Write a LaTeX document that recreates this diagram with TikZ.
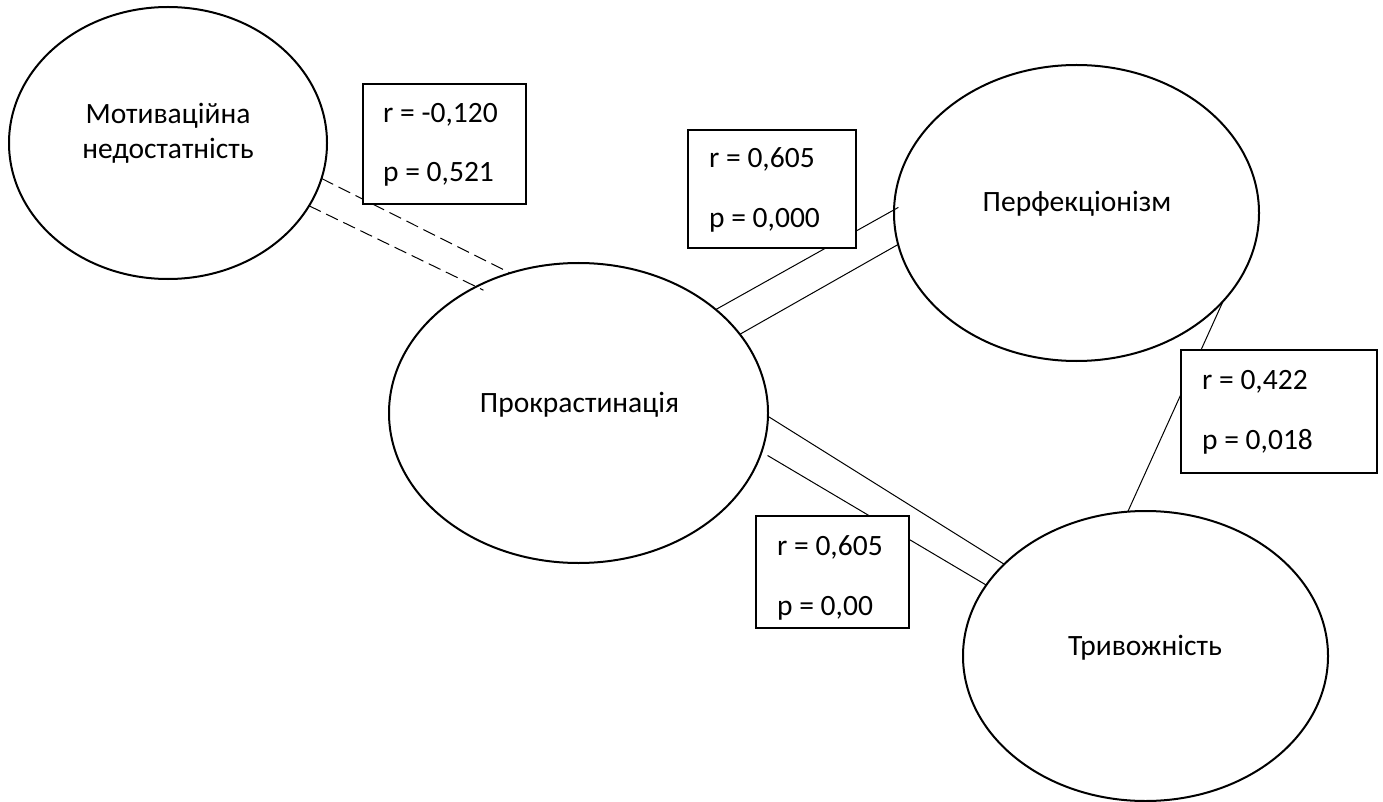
\documentclass[tikz,border=0pt]{standalone}
\usepackage{fontspec}
\setmainfont{Carlito}
\usetikzlibrary{shapes.geometric}
\begin{document}
\begin{tikzpicture}[x=1pt,y=-1pt,
  oval/.style={draw,ellipse,line width=2pt,inner sep=0pt,outer sep=0pt},
  lbl/.style={font=\fontsize{29.5}{35}\selectfont,inner sep=0pt,anchor=base},
  statbox/.style={draw,fill=white,line width=1.2pt,inner sep=0pt,outer sep=0pt},
  stat/.style={font=\fontsize{29.5}{35}\selectfont,inner sep=0pt,anchor=base west},
  link/.style={line width=1pt},
  dlink/.style={line width=1pt,dash pattern=on 13pt off 6pt}]
\useasboundingbox (0,0) rectangle (1383,802);
% ellipses
\node[oval,minimum width=318pt,minimum height=272pt] (mot) at (168,143) {};
\node[oval,minimum width=379pt,minimum height=300pt] (pro) at (578.5,413) {};
\node[oval,minimum width=365pt,minimum height=296pt] (per) at (1076.5,213) {};
\node[oval,minimum width=365pt,minimum height=290pt] (tri) at (1145.5,656) {};
% ellipse texts
\node[lbl] (tmot1) at (168,124) {Мотиваційна};
\node[lbl] (tmot2) at (168,159) {недостатність};
\node[lbl] (tpro) at (579.5,412) {Прокрастинація};
\node[lbl] (tper) at (1077,212) {Перфекціонізм};
\node[lbl] (ttri) at (1145,655) {Тривожність};
% connectors
\draw[dlink] (mot.-13.2) -- (pro.116.6);
\draw[dlink,shorten >=-8pt] (mot.-24.6) -- (pro.129.4);
\draw[link,shorten >=-5pt] (pro.37) -- (per.179.7);
\draw[link] (pro.26.4) -- (per.190.7);
\draw[link] (pro.-1.2) -- (tri.147.1);
\draw[link,shorten <=7pt] (pro.-12.5) -- (tri.156.3);
\draw[link] (per.-31.5) -- (tri.97.7);
% statistic boxes
\node[statbox,minimum width=163pt,minimum height=120pt] (b1) at (444.5,144) {};
\node[statbox,minimum width=168pt,minimum height=118pt] (b2) at (772,189) {};
\node[statbox,minimum width=196pt,minimum height=123pt] (b3) at (1279,411.5) {};
\node[statbox,minimum width=153pt,minimum height=112pt] (b4) at (832.5,572) {};
\node[stat] (b1r) at ([shift={(20,39)}]b1.north west) {r = -0,120};
\node[stat] (b1p) at ([shift={(20,98)}]b1.north west) {p = 0,521};
\node[stat] (b2r) at ([shift={(21,38)}]b2.north west) {r = 0,605};
\node[stat] (b2p) at ([shift={(21,98)}]b2.north west) {p = 0,000};
\node[stat] (b3r) at ([shift={(21,39)}]b3.north west) {r = 0,422};
\node[stat] (b3p) at ([shift={(21,99)}]b3.north west) {p = 0,018};
\node[stat] (b4r) at ([shift={(21,39)}]b4.north west) {r = 0,605};
\node[stat] (b4p) at ([shift={(21,99)}]b4.north west) {p = 0,00};
\end{tikzpicture}
\end{document}
